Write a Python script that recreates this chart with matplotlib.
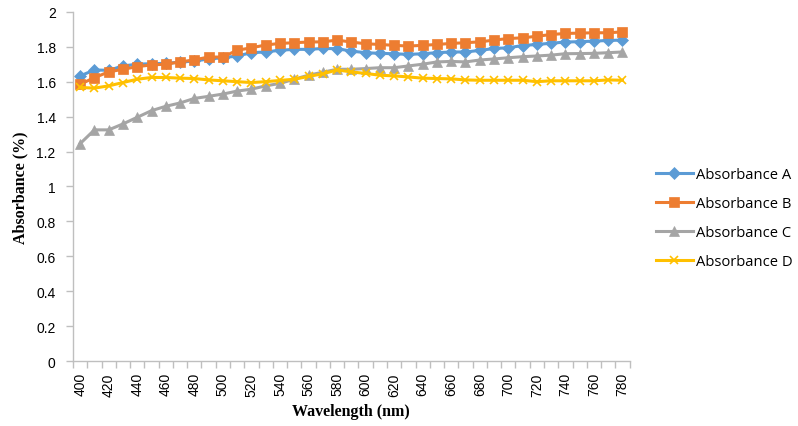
import numpy as np
import matplotlib
matplotlib.use('Agg')
import matplotlib.pyplot as plt

# wavelengths 400..780 nm, one category every 10 nm
wavelength = list(range(400, 790, 10))

absorbance_a = [1.633, 1.667, 1.665, 1.690, 1.700, 1.703, 1.705, 1.712, 1.718, 1.730,
                1.737, 1.747, 1.766, 1.770, 1.780, 1.785, 1.785, 1.790, 1.789, 1.775,
                1.766, 1.762, 1.760, 1.756, 1.760, 1.766, 1.770, 1.770, 1.779, 1.790,
                1.794, 1.807, 1.813, 1.820, 1.827, 1.829, 1.832, 1.836, 1.838]
absorbance_b = [1.585, 1.623, 1.656, 1.671, 1.686, 1.696, 1.700, 1.713, 1.725, 1.741,
                1.741, 1.780, 1.794, 1.810, 1.819, 1.823, 1.827, 1.828, 1.838, 1.827,
                1.817, 1.813, 1.808, 1.804, 1.808, 1.813, 1.819, 1.823, 1.828, 1.838,
                1.847, 1.851, 1.860, 1.870, 1.876, 1.878, 1.880, 1.880, 1.885]
absorbance_c = [1.245, 1.324, 1.324, 1.358, 1.396, 1.434, 1.459, 1.478, 1.504, 1.516,
                1.529, 1.546, 1.557, 1.576, 1.590, 1.614, 1.637, 1.654, 1.671, 1.671,
                1.675, 1.680, 1.680, 1.690, 1.700, 1.713, 1.716, 1.713, 1.724, 1.730,
                1.737, 1.743, 1.747, 1.752, 1.760, 1.761, 1.762, 1.766, 1.770]
absorbance_d = [1.567, 1.563, 1.576, 1.595, 1.614, 1.624, 1.624, 1.620, 1.618, 1.610,
                1.605, 1.600, 1.595, 1.600, 1.607, 1.614, 1.630, 1.645, 1.667, 1.656,
                1.647, 1.637, 1.633, 1.627, 1.620, 1.618, 1.616, 1.610, 1.608, 1.608,
                1.608, 1.608, 1.600, 1.605, 1.605, 1.605, 1.605, 1.610, 1.608]

series = [
    ('Absorbance A', absorbance_a, '#5B9BD5', 'D', 6),
    ('Absorbance B', absorbance_b, '#ED7D31', 's', 7),
    ('Absorbance C', absorbance_c, '#A5A5A5', '^', 7.5),
    ('Absorbance D', absorbance_d, '#FFC000', 'x', 6),
]

fig = plt.figure(figsize=(7.98, 4.27), dpi=100)
ax = fig.add_axes([0.0915, 0.152, 0.6975, 0.818])

xs = np.arange(len(wavelength))
for name, vals, color, marker, ms in series:
    ax.plot(xs, vals, color=color, lw=2.2, marker=marker, ms=ms,
            markeredgewidth=1.2 if marker == 'x' else 0.5, markeredgecolor=color,
            label=name)

ax.set_xlim(-0.5, len(wavelength) - 0.5)
ax.set_ylim(0, 2)
yt = np.arange(0, 2.01, 0.2)
ax.set_yticks(yt)
ax.set_yticklabels(['%g' % round(v, 1) for v in yt])

# tick marks between categories, labels on every other category
ax.set_xticks(np.arange(-0.5, len(wavelength), 1))
ax.set_xticklabels([])
ax.set_xticks(xs[::2], minor=True)
ax.set_xticklabels([str(w) for w in wavelength[::2]], minor=True, rotation=90)
ax.tick_params(axis='x', which='minor', length=0, pad=8)

for s in ['top', 'right']:
    ax.spines[s].set_visible(False)
for s in ['left', 'bottom']:
    ax.spines[s].set_color('#BFBFBF')
    ax.spines[s].set_linewidth(1.0)
ax.tick_params(axis='both', which='major', color='#BFBFBF', length=5, width=1.0)
ax.tick_params(axis='y', which='major', pad=7.5)
ax.tick_params(axis='both', which='both', labelsize=10, labelcolor='#000000')
for lab in ax.get_xticklabels(minor=True) + ax.get_yticklabels():
    lab.set_family('Liberation Sans')

ax.set_xlabel('Wavelength (nm)', family='Liberation Serif', fontweight='bold',
              fontsize=11.5, labelpad=5)
ax.set_ylabel('Absorbance (%)', family='Liberation Serif', fontweight='bold',
              fontsize=11.5, labelpad=6)

leg = fig.legend(loc='center left', bbox_to_anchor=(0.822, 0.487), frameon=False,
                 prop={'family': 'Open Sans', 'size': 10.6}, handlelength=2.5,
                 labelspacing=0.95, handletextpad=0.2, borderaxespad=0, borderpad=0)

fig.savefig('out.png', dpi=100)
